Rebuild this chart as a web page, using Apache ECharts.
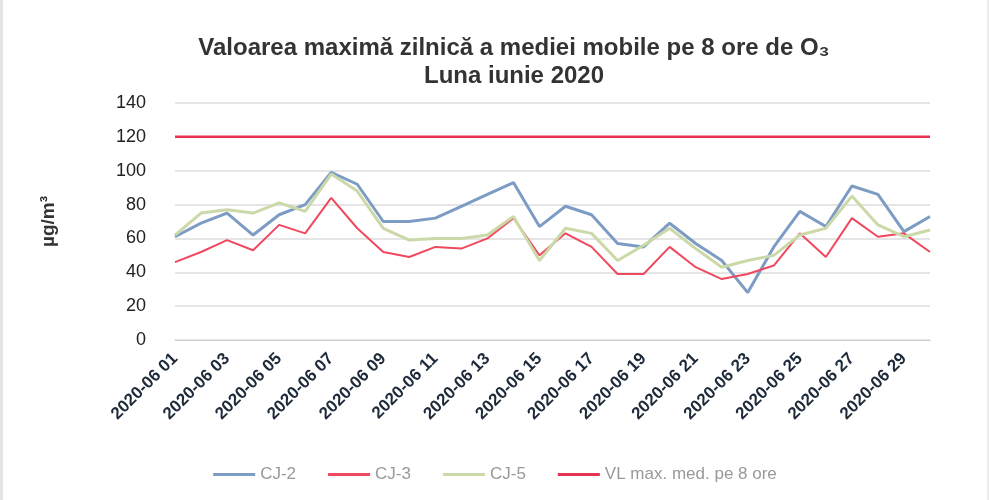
<!DOCTYPE html>
<html>
<head>
<meta charset="utf-8">
<title>O3 iunie 2020</title>
<script src="https://cdn.jsdelivr.net/npm/echarts@6/dist/echarts.min.js"></script>
<style>
  html, body { margin: 0; padding: 0; background: #fff; }
  #chart { width: 989px; height: 500px; box-sizing: border-box; border-left: 3px solid #e4e4e4; border-right: 2px solid #ececec; }
</style>
</head>
<body>
<div id="chart"></div>
<script>
// days of June 2020
const days = ['2020-06 01','2020-06 02','2020-06 03','2020-06 04','2020-06 05','2020-06 06','2020-06 07','2020-06 08','2020-06 09','2020-06 10',
              '2020-06 11','2020-06 12','2020-06 13','2020-06 14','2020-06 15','2020-06 16','2020-06 17','2020-06 18','2020-06 19','2020-06 20',
              '2020-06 21','2020-06 22','2020-06 23','2020-06 24','2020-06 25','2020-06 26','2020-06 27','2020-06 28','2020-06 29','2020-06 30'];

const cj2 = [61, 69, 75, 62, 74, 80, 99, 92, 70, 70, 72, 79, 86, 93, 67, 79, 74, 57, 55, 69, 57, 47, 28, 55, 76, 67, 91, 86, 64, 73];
const cj3 = [46, 52, 59, 53, 68, 63, 84, 66, 52, 49, 55, 54, 60, 72, 50, 63, 55, 39, 39, 55, 43, 36, 39, 44, 63, 49, 72, 61, 63, 52];
const cj5 = [62, 75, 77, 75, 81, 76, 98, 88, 66, 59, 60, 60, 62, 73, 47, 66, 63, 47, 56, 66, 54, 43, 47, 50, 62, 66, 85, 68, 61, 65];
const vl  = [120,120,120,120,120,120,120,120,120,120,120,120,120,120,120,120,120,120,120,120,120,120,120,120,120,120,120,120,120,120];

const yTicks = { min: 0, max: 140, step: 20 };

const chart = echarts.init(document.getElementById('chart'));

function line(name, data, color, width) {
    return {
        name: name,
        type: 'line',
        data: data,
        symbol: 'none',
        lineStyle: { color: color, width: width },
        itemStyle: { color: color }
    };
}

chart.setOption({
    animation: false,
    title: {
        text: 'Valoarea maximă zilnică a mediei mobile pe 8 ore de O₃\nLuna iunie 2020',
        left: 506,
        textAlign: 'center',
        top: 29,
        textStyle: { fontFamily: 'Liberation Sans', fontWeight: 'bold', fontSize: 24, color: '#333', lineHeight: 28 }
    },
    legend: {
        bottom: 12,
        left: 'center',
        itemWidth: 42,
        itemHeight: 3,
        itemGap: 32,
        icon: 'rect',
        textStyle: { fontFamily: 'Liberation Sans', fontSize: 17, color: '#999' },
        data: ['CJ-2', 'CJ-3', 'CJ-5', 'VL max. med. pe 8 ore']
    },
    grid: { left: 172, right: 57, top: 103, bottom: 160 },
    xAxis: {
        type: 'category',
        data: days,
        boundaryGap: false,
        axisLine: { lineStyle: { color: '#d0d0d0' } },
        axisTick: { show: false },
        axisLabel: {
            interval: 1,
            rotate: 45,
            fontFamily: 'Liberation Sans',
            fontWeight: 'bold',
            fontSize: 17,
            color: '#1e2a3a',
            margin: 16
        }
    },
    yAxis: {
        type: 'value',
        min: yTicks.min,
        max: yTicks.max,
        interval: yTicks.step,
        name: 'µg/m³',
        nameLocation: 'middle',
        nameGap: 117,
        nameTextStyle: { fontFamily: 'Liberation Sans', fontWeight: 'bold', fontSize: 19, color: '#333' },
        axisLabel: { fontFamily: 'Liberation Sans', fontSize: 18, color: '#222', margin: 29 },
        splitLine: { lineStyle: { color: '#dcdcdc', width: 1.5 } }
    },
    series: [
        line('CJ-2', cj2, '#7d9cc4', 3),
        line('CJ-3', cj3, '#f0485e', 2),
        line('CJ-5', cj5, '#cbd9a9', 3),
        line('VL max. med. pe 8 ore', vl, '#e6334f', 2.5)
    ]
});
</script>
</body>
</html>
